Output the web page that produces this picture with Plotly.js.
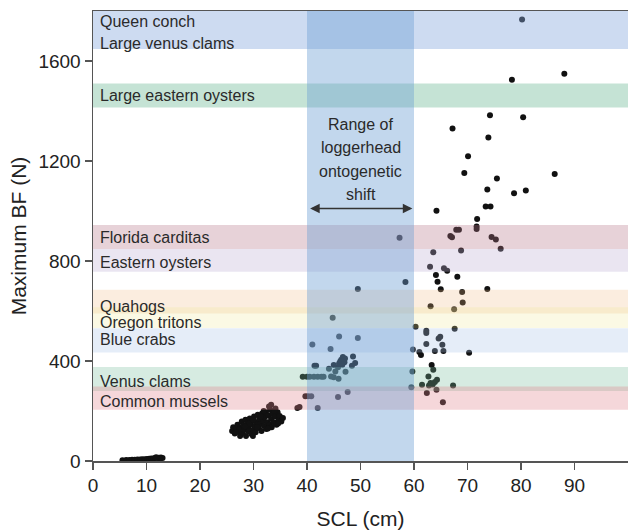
<!DOCTYPE html>
<html>
<head>
<meta charset="utf-8">
<script src="https://cdn.plot.ly/plotly-3.0.1.min.js"></script>
<style>html,body{margin:0;padding:0;background:#fff}</style>
</head>
<body>
<div id="chart" style="width:628px;height:531px"></div>
<script>
// ---- data ----
// hatchlings
const hatchSCL = [5.5,6.2,6.8,7.3,7.8,8.3,8.8,9.2,9.7,10.1,10.5,10.9,11.3,11.6,12.0,12.3,12.7,13.0,12.5,11.8];
const hatchBF  = [3,4,4,5,5,6,6,7,7,8,9,10,10,12,12,13,14,12,10,15];
// small juveniles
const juvSCL = [26.0,26.2,26.5,26.8,27.0,27.2,27.5,27.6,27.8,28.0,28.1,28.3,28.5,28.6,28.8,29.0,29.1,29.3,29.5,29.6,29.8,30.0,30.1,30.3,30.4,30.6,30.8,31.0,31.1,31.3,31.5,31.6,31.8,32.0,32.1,32.3,32.4,32.6,32.8,33.0,33.1,33.3,33.4,33.6,33.8,34.0,34.1,34.3,34.5,34.7,34.9,35.2,35.5,33.3,32.9,29.2,30.7,31.9,28.4,27.3,30.0,31.4,32.7,33.9,26.7,29.9,34.6];
const juvBF  = [120,135,110,128,145,118,100,135,158,112,142,125,165,100,150,132,118,170,145,108,160,125,178,140,115,155,185,132,168,148,120,190,160,140,175,195,128,155,182,145,205,168,135,190,155,178,210,145,195,165,180,158,172,225,218,150,135,200,138,125,165,178,130,200,115,100,150];
// transitional / shift-range turtles
const midSCL = [38.2,38.6,39.7,40.2,40.8,42.0,45.8,47.6,39.2,40.0,40.5,41.3,42.0,42.7,43.1,44.5,45.0,45.9,44.1,45.3,45.0,41.4,41.7,47.2,48.4,49.0,48.6,46.0,46.4,46.7,46.2,47.0,46.6,47.1,45.8,44.4,41.0,46.0,49.5,44.8,49.5,57.3,58.4,59.7,59.5,59.8,60.3];
const midBF  = [212,216,259,259,259,212,256,276,337,337,337,337,337,337,337,338,335,329,369,358,384,381,381,357,381,392,418,390,405,416,398,395,385,410,375,448,466,498,492,573,688,893,716,358,295,446,537];
// large juveniles and adults
const adultSCL = [61.0,61.3,62.3,62.3,62.3,64.6,64.9,65.3,63.9,65.5,70.3,63.3,63.6,62.7,64.3,63.9,61.5,62.8,63.1,63.5,67.3,62.4,64.2,65.4,63.1,67.5,67.6,69.1,69.0,65.0,73.7,64.4,64.1,68.1,63.0,65.6,66.2,63.6,68.8,76.2,75.3,74.5,66.8,67.1,67.9,68.4,71.7,71.7,71.8,64.2,73.4,74.3,73.7,78.7,80.9,75.5,69.4,86.3,70.1,73.9,67.2,74.2,80.4,78.3,88.1,80.2];
const adultBF  = [436,424,512,521,468,490,497,465,440,440,433,384,365,338,325,316,305,302,312,306,302,272,285,235,619,607,529,634,676,687,688,717,744,737,777,771,761,835,842,849,886,896,900,895,925,925,938,928,968,1001,1018,1018,1086,1071,1082,1130,1152,1148,1219,1294,1330,1383,1375,1525,1549,1766];

// prey crushing-force bands (N)
const preyNames = ["Queen conch","Large venus clams","Large eastern oysters","Florida carditas","Eastern oysters","Quahogs","Oregon tritons","Blue crabs","Venus clams","Common mussels"];
const preyLabelBF = [1758,1670,1462,896,796,618,555,485,317,237];
const bandLow  = [1648,1414,848,757,590,532,434,280,205];
const bandHigh = [1800,1510,944,848,685,615,531,376,298];
const shiftRange = [40,60];
const shiftText = ["Range of","loggerhead","ontogenetic","shift"];
const shiftTextBF = [1346,1254,1158,1066];
const arrowBF = 1010;

// ---- styles ----
const bandColors = [
  "rgba(135,170,222,0.42)",
  "rgba(110,185,150,0.40)",
  "rgba(180,115,135,0.32)",
  "rgba(190,175,212,0.32)",
  "rgba(240,185,130,0.26)",
  "rgba(238,232,150,0.26)",
  "rgba(170,195,232,0.30)",
  "rgba(120,190,155,0.30)",
  "rgba(225,130,140,0.32)"
];
const FONT = "Liberation Sans, Arial, sans-serif";

const allX = hatchSCL.concat(juvSCL, midSCL, adultSCL);
const allY = hatchBF.concat(juvBF, midBF, adultBF);

const trace = {
  type: "scatter", mode: "markers", x: allX, y: allY,
  marker: {size: 6, color: "#111111"}, hoverinfo: "x+y", showlegend: false
};

const shapes = [];
for (let i = 0; i < bandLow.length; i++) {
  shapes.push({type: "rect", xref: "x", yref: "y", x0: 0, x1: 100,
    y0: bandLow[i], y1: bandHigh[i], fillcolor: bandColors[i],
    line: {width: 0}, layer: "above"});
}
shapes.push({type: "rect", xref: "x", yref: "y", x0: shiftRange[0], x1: shiftRange[1],
  y0: 0, y1: 1800, fillcolor: "rgba(110,160,212,0.42)", line: {width: 0}, layer: "above"});

const annotations = [];
for (let i = 0; i < preyNames.length; i++) {
  annotations.push({x: 1.0, y: preyLabelBF[i], xref: "x", yref: "y", text: preyNames[i],
    showarrow: false, xanchor: "left", yanchor: "middle",
    font: {family: FONT, size: 16, color: "#2a2a2a"}});
}
for (let i = 0; i < shiftText.length; i++) {
  annotations.push({x: (shiftRange[0] + shiftRange[1]) / 2, y: shiftTextBF[i], xref: "x", yref: "y",
    text: shiftText[i], showarrow: false, xanchor: "center", yanchor: "middle",
    font: {family: FONT, size: 16, color: "#2a2a2a"}});
}
annotations.push({x: shiftRange[1] - 0.3, y: arrowBF, ax: shiftRange[0] + 0.3, ay: arrowBF,
  xref: "x", yref: "y", axref: "x", ayref: "y", text: "", showarrow: true,
  arrowside: "end+start", arrowhead: 2, arrowsize: 1.2, arrowwidth: 1.6, arrowcolor: "#333333"});

const layout = {
  width: 628, height: 531,
  margin: {l: 93, r: 0, t: 11, b: 70},
  paper_bgcolor: "#ffffff", plot_bgcolor: "#ffffff",
  font: {family: FONT, color: "#222222"},
  xaxis: {
    range: [0, 100], tickvals: [0,10,20,30,40,50,60,70,80,90],
    showgrid: false, zeroline: false, showline: true, linecolor: "#555555", linewidth: 1.5,
    mirror: true, ticks: "outside", ticklen: 7, tickcolor: "#555555", tickwidth: 1.5,
    tickfont: {family: FONT, size: 19, color: "#222222"},
    title: {text: "SCL (cm)", font: {family: FONT, size: 21, color: "#222222"}, standoff: 16}
  },
  yaxis: {
    range: [0, 1800], tickvals: [0,400,800,1200,1600],
    showgrid: false, zeroline: false, showline: true, linecolor: "#555555", linewidth: 1.5,
    ticks: "outside", ticklen: 7, tickcolor: "#555555", tickwidth: 1.5,
    tickfont: {family: FONT, size: 19, color: "#222222"},
    title: {text: "Maximum BF (N)", font: {family: FONT, size: 21, color: "#222222"}, standoff: 6}
  },
  shapes: shapes,
  annotations: annotations
};

Plotly.newPlot("chart", [trace], layout, {displayModeBar: false, staticPlot: true});
</script>
</body>
</html>
